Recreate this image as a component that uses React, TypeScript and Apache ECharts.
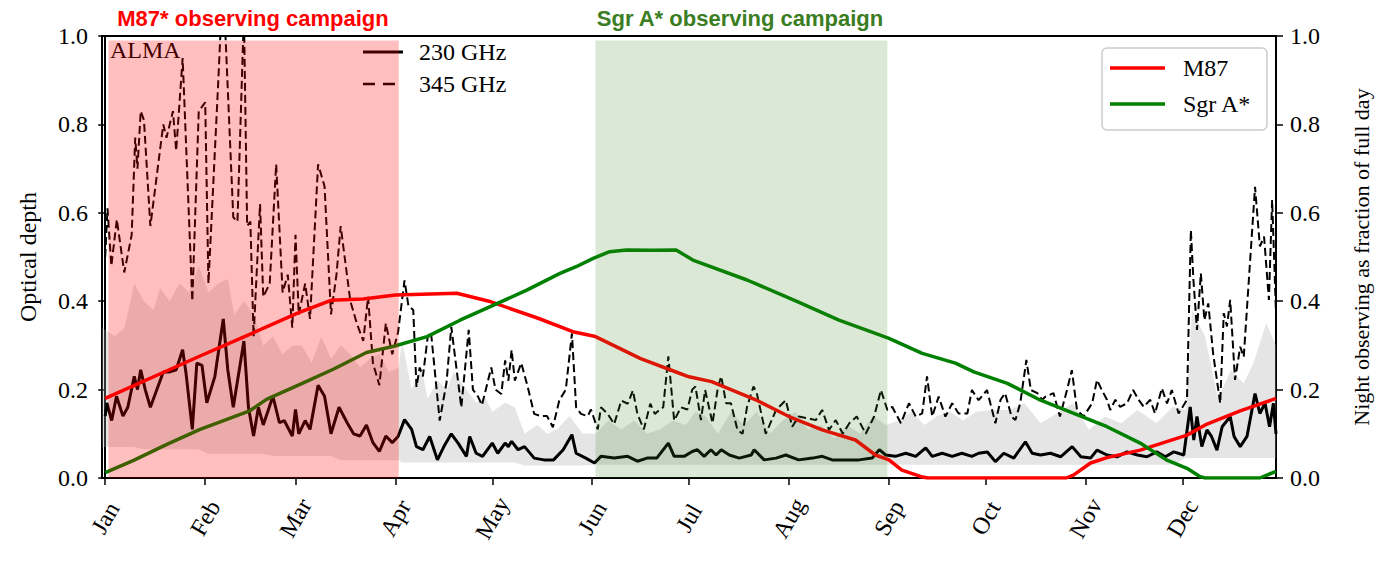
import React, { useEffect, useRef } from "react";
import * as echarts from "echarts";

const SERIF = "Liberation Serif";
const SANS = "Liberation Sans";

const monthStarts = [0, 31, 59, 90, 120, 151, 181, 212, 243, 273, 304, 334];
const monthLabels = ["Jan", "Feb", "Mar", "Apr", "May", "Jun", "Jul", "Aug", "Sep", "Oct", "Nov", "Dec"];

// campaign windows: [startDay, endDay]
const m87Campaign: [number, number] = [1, 91];
const sgrCampaign: [number, number] = [152, 242.5];

// ALMA optical depth, 230 GHz: [day, tau]
const tau230: [number, number][] = [
  [0, 0.14], [0.5, 0.17], [2, 0.13], [3.5, 0.185], [5.5, 0.14], [7, 0.16], [9, 0.23], [10, 0.2], [11, 0.245],
  [12.4, 0.2], [14, 0.16], [16.5, 0.21], [18, 0.24], [20, 0.24], [22, 0.245], [24, 0.29], [25, 0.24], [27, 0.11],
  [28.4, 0.26], [30, 0.255], [31.5, 0.17], [34, 0.23], [36.6, 0.36], [38, 0.245], [39.7, 0.16], [43, 0.31],
  [44.4, 0.16], [46, 0.095], [47.5, 0.16], [49, 0.12], [52, 0.185], [54, 0.125], [55.5, 0.13], [58, 0.095],
  [59, 0.155], [60, 0.1], [62, 0.13], [63.5, 0.11], [66, 0.21], [68, 0.185], [70, 0.1], [72.5, 0.16], [75, 0.125],
  [77, 0.1], [79, 0.095], [81, 0.12], [83, 0.08], [85, 0.06], [87, 0.095], [89, 0.08], [90.8, 0.094],
  [92.8, 0.132], [95, 0.11], [96.5, 0.071], [98.5, 0.064], [100.6, 0.094], [103, 0.041], [105, 0.071],
  [107.3, 0.1], [109.4, 0.079], [112, 0.049], [113, 0.094], [115, 0.056], [117, 0.049], [120, 0.079],
  [121.7, 0.056], [124, 0.079], [125, 0.071], [126, 0.083], [128, 0.064], [130, 0.071], [133, 0.045],
  [136, 0.041], [139, 0.041], [142, 0.064], [144.7, 0.098], [146, 0.056], [149, 0.045], [151.7, 0.034],
  [153.7, 0.049], [157.8, 0.045], [162, 0.049], [165, 0.038], [168, 0.045], [171, 0.045], [174.6, 0.079],
  [176.4, 0.049], [179.5, 0.049], [182, 0.06], [183.6, 0.064], [185.7, 0.049], [187.8, 0.064], [189.4, 0.052],
  [191, 0.064], [193.5, 0.052], [196.6, 0.045], [200.3, 0.052], [201.2, 0.064], [204.3, 0.041], [208, 0.045],
  [211, 0.052], [215, 0.041], [219.3, 0.045], [222.3, 0.049], [225.4, 0.041], [229.5, 0.041], [233.7, 0.041],
  [237.8, 0.045], [240, 0.064], [242, 0.052], [245, 0.049], [248.2, 0.056], [251.3, 0.049], [254.4, 0.068],
  [256.4, 0.049], [259.5, 0.056], [262.6, 0.049], [265.6, 0.056], [268.7, 0.049], [270.8, 0.056],
  [273.5, 0.059], [276, 0.037], [278.6, 0.056], [281.7, 0.045], [285.3, 0.082], [287.4, 0.056], [290, 0.052],
  [293.1, 0.056], [296.2, 0.048], [299.8, 0.071], [302.5, 0.048], [305.5, 0.045], [307.5, 0.063],
  [310.6, 0.052], [313.7, 0.048], [316.8, 0.059], [320, 0.052], [323, 0.048], [326, 0.059], [328.7, 0.048],
  [331.3, 0.059], [334.4, 0.052], [336.4, 0.161], [337.5, 0.086], [338.5, 0.139], [340, 0.071], [341.6, 0.109],
  [343, 0.094], [344.7, 0.063], [346.3, 0.116], [348.8, 0.139], [350, 0.094], [351.9, 0.071], [354, 0.094],
  [356.5, 0.191], [358, 0.146], [359.6, 0.169], [361, 0.116], [362.2, 0.169], [363, 0.1],
];

// ALMA optical depth, 345 GHz: [day, tau]
const tau345: [number, number][] = [
  [0, 0.5], [0.7, 0.61], [1.9, 0.48], [3.6, 0.585], [5.9, 0.465], [8.2, 0.55], [9.3, 0.77], [10, 0.7], [11, 0.83],
  [12, 0.81], [14, 0.57], [18, 0.8], [19, 0.77], [21, 0.83], [22, 0.74], [24, 0.95], [27, 0.4], [29, 0.83],
  [31, 0.85], [32, 0.44], [35, 0.89], [36, 1.05], [37, 1.05], [39.7, 0.59], [41, 0.58], [43, 1.05], [44, 0.57],
  [45, 0.58], [46, 0.32], [48, 0.62], [49, 0.41], [51, 0.44], [53, 0.71], [55, 0.42], [56.6, 0.46], [58, 0.34],
  [59, 0.55], [60, 0.37], [62, 0.44], [63.5, 0.36], [66, 0.71], [68, 0.66], [70, 0.37], [71.7, 0.46], [73, 0.57],
  [76, 0.4], [78, 0.35], [80, 0.31], [81.5, 0.41], [83, 0.26], [85, 0.21], [87, 0.35], [89, 0.28], [90.8, 0.33],
  [92.8, 0.447], [94, 0.39], [95.5, 0.38], [96.5, 0.206], [97.5, 0.25], [98.5, 0.23], [100, 0.32], [101, 0.33],
  [103.7, 0.13], [105.8, 0.215], [107.3, 0.342], [110.4, 0.16], [112.7, 0.335], [114, 0.2], [115.6, 0.184],
  [116.8, 0.165], [119.7, 0.25], [121, 0.2], [122.8, 0.19], [124, 0.266], [125, 0.22], [126, 0.29], [127, 0.22],
  [129, 0.26], [131, 0.206], [133, 0.145], [135, 0.14], [137, 0.14], [138.8, 0.115], [140.8, 0.176],
  [142.8, 0.2], [144.7, 0.327], [146, 0.16], [147.5, 0.145], [149.6, 0.14], [150.6, 0.155], [152.7, 0.11],
  [153.7, 0.16], [155.8, 0.145], [157.8, 0.122], [160, 0.175], [162, 0.168], [163.6, 0.198], [165, 0.145],
  [167, 0.11], [169, 0.168], [170.4, 0.145], [172, 0.155], [173, 0.16], [174.6, 0.275], [176.4, 0.13],
  [178.5, 0.16], [180.5, 0.155], [182, 0.2], [183, 0.207], [184.7, 0.131], [186, 0.199], [188.3, 0.124],
  [190, 0.207], [191, 0.23], [192.5, 0.169], [194, 0.169], [196, 0.109], [197.6, 0.1], [199, 0.161], [201, 0.207],
  [202, 0.192], [204.8, 0.1], [208, 0.154], [211, 0.176], [213, 0.116], [215, 0.139], [218, 0.135],
  [220.3, 0.131], [222.3, 0.154], [224.4, 0.109], [226.5, 0.131], [228.7, 0.1], [230.7, 0.124], [233, 0.139],
  [235.8, 0.1], [238.4, 0.139], [240.5, 0.199], [242.5, 0.154], [244, 0.161], [246.7, 0.124], [249.2, 0.169],
  [251.3, 0.139], [253.3, 0.146], [254.8, 0.23], [256.4, 0.139], [258.4, 0.184], [260.5, 0.139],
  [262.6, 0.169], [264.6, 0.146], [267.3, 0.146], [268.7, 0.199], [270.8, 0.176], [273.4, 0.199],
  [276, 0.124], [277.6, 0.177], [279, 0.192], [281, 0.139], [282.2, 0.131], [283.7, 0.169], [285.6, 0.267],
  [287, 0.199], [289, 0.192], [290.5, 0.177], [291.5, 0.184], [294, 0.192], [296, 0.139], [298.2, 0.199],
  [299.7, 0.244], [301.3, 0.154], [303.3, 0.139], [306, 0.169], [307.5, 0.222], [309, 0.199], [310.6, 0.177],
  [311.6, 0.154], [313.2, 0.177], [314.7, 0.161], [316.8, 0.169], [318.7, 0.199], [320.4, 0.177], [322, 0.161],
  [324, 0.177], [325.5, 0.146], [327.6, 0.203], [329.2, 0.169], [330.7, 0.199], [332.8, 0.146], [335.4, 0.177],
  [336.6, 0.561], [337.4, 0.448], [338.5, 0.335], [339.7, 0.463], [340.8, 0.357], [342, 0.395], [343.5, 0.282],
  [345.7, 0.169], [346.8, 0.373], [347.8, 0.343], [348.8, 0.403], [350.3, 0.222], [351.9, 0.297], [353, 0.274],
  [355, 0.494], [356.5, 0.659], [358, 0.524], [359.3, 0.546], [360.8, 0.403], [361.8, 0.629], [363, 0.373],
];

// spread band of the 230 GHz optical depth: [day, low, high]
const band230: [number, number, number][] = [
  [-1, 0.07, 0.34], [3, 0.07, 0.32], [6, 0.07, 0.34], [9, 0.07, 0.44], [12, 0.065, 0.4], [15, 0.065, 0.38],
  [17, 0.065, 0.43], [20, 0.065, 0.4], [23, 0.065, 0.44], [26, 0.065, 0.42], [29, 0.065, 0.48], [32, 0.055, 0.42],
  [35, 0.055, 0.44], [38, 0.055, 0.45], [40, 0.055, 0.37], [43, 0.055, 0.4], [46, 0.055, 0.37], [49, 0.055, 0.3],
  [52, 0.05, 0.32], [55, 0.05, 0.28], [58, 0.05, 0.3], [61, 0.05, 0.3], [64, 0.05, 0.26], [67, 0.05, 0.32],
  [70, 0.05, 0.27], [73, 0.04, 0.3], [76, 0.04, 0.28], [79, 0.04, 0.25], [82, 0.04, 0.27], [85, 0.04, 0.28],
  [88, 0.04, 0.24], [91, 0.04, 0.25], [92, 0.035, 0.31], [95, 0.035, 0.2], [98, 0.035, 0.25], [100, 0.035, 0.18],
  [103, 0.035, 0.22], [106, 0.035, 0.2], [108, 0.035, 0.24], [112, 0.035, 0.2], [115, 0.035, 0.17],
  [118, 0.035, 0.18], [120, 0.035, 0.15], [124, 0.035, 0.17], [127, 0.035, 0.16], [130, 0.028, 0.1],
  [134, 0.028, 0.12], [137, 0.028, 0.1], [140, 0.028, 0.11], [144, 0.028, 0.14], [148, 0.028, 0.1],
  [152, 0.03, 0.1], [156, 0.03, 0.13], [160, 0.03, 0.11], [164, 0.03, 0.13], [168, 0.03, 0.1], [172, 0.03, 0.11],
  [176, 0.03, 0.13], [180, 0.03, 0.12], [183, 0.03, 0.15], [186, 0.03, 0.14], [190, 0.03, 0.1], [194, 0.03, 0.15],
  [198, 0.03, 0.12], [202, 0.03, 0.15], [206, 0.03, 0.1], [210, 0.03, 0.13], [214, 0.03, 0.15], [218, 0.03, 0.11],
  [222, 0.03, 0.12], [226, 0.03, 0.09], [230, 0.03, 0.12], [234, 0.03, 0.1], [238, 0.03, 0.14], [242, 0.03, 0.12],
  [246, 0.03, 0.13], [250, 0.03, 0.15], [254, 0.03, 0.12], [258, 0.03, 0.14], [262, 0.03, 0.15], [266, 0.03, 0.13],
  [270, 0.03, 0.15], [275, 0.03, 0.154], [280, 0.03, 0.154], [285, 0.03, 0.169], [290, 0.03, 0.124],
  [295, 0.03, 0.146], [300, 0.03, 0.169], [305, 0.03, 0.109], [310, 0.03, 0.139], [315, 0.03, 0.124],
  [320, 0.03, 0.154], [326, 0.03, 0.124], [331, 0.03, 0.161], [335, 0.045, 0.154], [337, 0.045, 0.38],
  [341, 0.045, 0.32], [345, 0.045, 0.18], [349, 0.045, 0.244], [353, 0.045, 0.214], [356, 0.045, 0.26],
  [360, 0.045, 0.35], [363, 0.045, 0.3],
];

// night observing fraction: [day, fraction]
const nightM87: [number, number][] = [
  [0, 0.18], [29.4, 0.276], [44.8, 0.325], [60, 0.374], [70, 0.402], [80, 0.405], [90, 0.414], [109, 0.418],
  [119, 0.4], [134, 0.362], [145, 0.331], [152, 0.32], [166, 0.27], [178, 0.237], [181, 0.229], [188, 0.218],
  [201.7, 0.177], [212, 0.139], [222.3, 0.109], [232.6, 0.086], [238.8, 0.052], [243, 0.041], [247, 0.018],
  [253, 0.003], [255, 0], [298, 0], [300.3, 0.007], [305.5, 0.034], [310.6, 0.046], [320.9, 0.063],
  [335.4, 0.097], [341.6, 0.122], [351.9, 0.152], [363, 0.18],
];
const nightSgr: [number, number][] = [
  [0, 0.012], [8.8, 0.04], [19.1, 0.076], [29.4, 0.11], [44.8, 0.152], [50, 0.178], [60.4, 0.212],
  [70.7, 0.246], [81, 0.284], [89.5, 0.298], [99.8, 0.32], [110, 0.357], [120.4, 0.391], [130.7, 0.425],
  [141, 0.463], [146, 0.478], [151.3, 0.497], [156.4, 0.512], [161.6, 0.516], [170, 0.515], [177, 0.516],
  [182.2, 0.493], [199, 0.448], [214.6, 0.399], [227.5, 0.357], [238.8, 0.327], [243, 0.316], [253.3, 0.282],
  [263.6, 0.26], [269.3, 0.24], [279.7, 0.214], [290, 0.176], [300.3, 0.146], [310.6, 0.116], [320.9, 0.079],
  [329, 0.041], [335.4, 0.022], [339.5, 0.003], [341, 0], [358, 0], [363, 0.015],
];

const DASH = [8, 4];

export default function App() {
  const ref = useRef<HTMLDivElement>(null);

  useEffect(() => {
    if (!ref.current) return;
    const chart = echarts.init(ref.current, undefined, { renderer: "svg" });

    const campaigns = [
      { range: m87Campaign, color: "rgba(255,0,0,0.25)" },
      { range: sgrCampaign, color: "rgba(60,130,30,0.18)" },
    ];

    const axisText = { fontFamily: SERIF, fontSize: 24, color: "#000" };
    const legendFont = `24px "${SERIF}"`;

    const option: any = {
      animation: false,
      backgroundColor: "#fff",
      grid: {
        left: 102, right: 100, top: 36, bottom: 87,
        show: true, borderColor: "#000", borderWidth: 2, backgroundColor: "transparent",
      },
      xAxis: {
        type: "value", min: -1, max: 363,
        axisLine: { show: true, lineStyle: { color: "#000", width: 2 } },
        axisTick: { show: true, customValues: monthStarts, length: 7, lineStyle: { color: "#000", width: 1.5 } },
        axisLabel: {
          customValues: monthStarts,
          formatter: (v: number) => monthLabels[monthStarts.indexOf(Math.round(v))] ?? "",
          rotate: 60, margin: 40, align: "center", verticalAlign: "middle", ...axisText,
        },
        splitLine: { show: false },
      },
      yAxis: [
        {
          type: "value", min: 0, max: 1, interval: 0.2, position: "left",
          name: "Optical depth", nameLocation: "middle", nameGap: 62, nameRotate: 90,
          nameTextStyle: { ...axisText },
          axisLine: { show: true, lineStyle: { color: "#000", width: 2 } },
          axisTick: { show: true, length: 7, lineStyle: { color: "#000", width: 1.5 } },
          axisLabel: { formatter: (v: number) => v.toFixed(1), margin: 14, ...axisText },
          splitLine: { show: false },
        },
        {
          type: "value", min: 0, max: 1, interval: 0.2, position: "right",
          name: "Night observing as fraction of full day", nameLocation: "middle", nameGap: 74, nameRotate: 90,
          nameTextStyle: { ...axisText, fontSize: 22 },
          axisLine: { show: true, lineStyle: { color: "#000", width: 2 } },
          axisTick: { show: true, length: 7, lineStyle: { color: "#000", width: 1.5 } },
          axisLabel: { formatter: (v: number) => v.toFixed(1), margin: 14, ...axisText },
          splitLine: { show: false },
        },
      ],
      graphic: [
        // ALMA label and left legend (drawn under the campaign shading)
        { type: "text", left: 110, top: 38, z: 1, style: { text: "ALMA", font: legendFont, fill: "#000" } },
        {
          type: "line", z: 1, shape: { x1: 363, y1: 52, x2: 403, y2: 52 },
          style: { stroke: "#000", lineWidth: 3 },
        },
        {
          type: "text", x: 419, y: 52, z: 1,
          style: { text: "230 GHz", font: legendFont, fill: "#000", textVerticalAlign: "middle" },
        },
        {
          type: "line", z: 1, shape: { x1: 363, y1: 84, x2: 403, y2: 84 },
          style: { stroke: "#000", lineWidth: 2.5, lineDash: [12, 8] },
        },
        {
          type: "text", x: 419, y: 84, z: 1,
          style: { text: "345 GHz", font: legendFont, fill: "#000", textVerticalAlign: "middle" },
        },
        // right legend
        {
          type: "rect", z: 20, shape: { x: 1102, y: 48, width: 165, height: 82, r: 5 },
          style: { fill: "rgba(255,255,255,0.8)", stroke: "#cccccc", lineWidth: 1.5 },
        },
        {
          type: "line", z: 21, shape: { x1: 1110, y1: 68, x2: 1165, y2: 68 },
          style: { stroke: "#ff0000", lineWidth: 3.5 },
        },
        {
          type: "text", x: 1183, y: 68, z: 21,
          style: { text: "M87", font: legendFont, fill: "#000", textVerticalAlign: "middle" },
        },
        {
          type: "line", z: 21, shape: { x1: 1110, y1: 104, x2: 1165, y2: 104 },
          style: { stroke: "#008000", lineWidth: 3.5 },
        },
        {
          type: "text", x: 1183, y: 104, z: 21,
          style: { text: "Sgr A*", font: legendFont, fill: "#000", textVerticalAlign: "middle" },
        },
        // campaign titles
        {
          type: "text", x: 253, y: 18, z: 1,
          style: {
            text: "M87* observing campaign", font: `bold 22px "${SANS}"`, fill: "#ff0000",
            textAlign: "center", textVerticalAlign: "middle",
          },
        },
        {
          type: "text", x: 740, y: 18, z: 1,
          style: {
            text: "Sgr A* observing campaign", font: `bold 22px "${SANS}"`, fill: "#3b7d23",
            textAlign: "center", textVerticalAlign: "middle",
          },
        },
      ],
      series: [
        {
          name: "230 GHz spread", type: "custom", z: 1, silent: true,
          data: band230,
          renderItem: (params: any, api: any) => {
            if (params.dataIndex !== 0) return null;
            const upper = band230.map((r) => api.coord([r[0], r[2]]));
            const lower = band230.map((r) => api.coord([r[0], r[1]])).reverse();
            return {
              type: "polygon",
              shape: { points: upper.concat(lower) },
              style: { fill: "rgba(170,170,170,0.3)" },
            };
          },
        },
        {
          name: "230 GHz", type: "line", symbol: "none", data: tau230, z: 3,
          lineStyle: { color: "#000", width: 3 }, itemStyle: { color: "#000" },
        },
        {
          name: "345 GHz", type: "line", symbol: "none", data: tau345, z: 3,
          lineStyle: { color: "#000", width: 2, type: DASH }, itemStyle: { color: "#000" },
        },
        {
          name: "M87", type: "line", yAxisIndex: 1, symbol: "none", data: nightM87, z: 4,
          lineStyle: { color: "#ff0000", width: 3.5 }, itemStyle: { color: "#ff0000" },
        },
        {
          name: "Sgr A*", type: "line", yAxisIndex: 1, symbol: "none", data: nightSgr, z: 4,
          lineStyle: { color: "#008000", width: 3.5 }, itemStyle: { color: "#008000" },
        },
        {
          name: "campaigns", type: "custom", z: 10, silent: true,
          data: campaigns.map((c) => [c.range[0], c.range[1]]),
          renderItem: (params: any, api: any) => {
            const p0 = api.coord([api.value(0), 0.99]);
            const p1 = api.coord([api.value(1), 0]);
            return {
              type: "rect",
              shape: { x: p0[0], y: p0[1], width: p1[0] - p0[0], height: p1[1] - p0[1] },
              style: { fill: campaigns[params.dataIndex].color },
            };
          },
        },
      ],
    };

    chart.setOption(option);
    return () => chart.dispose();
  }, []);

  return (
    <div
      ref={ref}
      style={{ position: "absolute", left: 0, top: 0, width: 1380, height: 565 }}
    />
  );
}
